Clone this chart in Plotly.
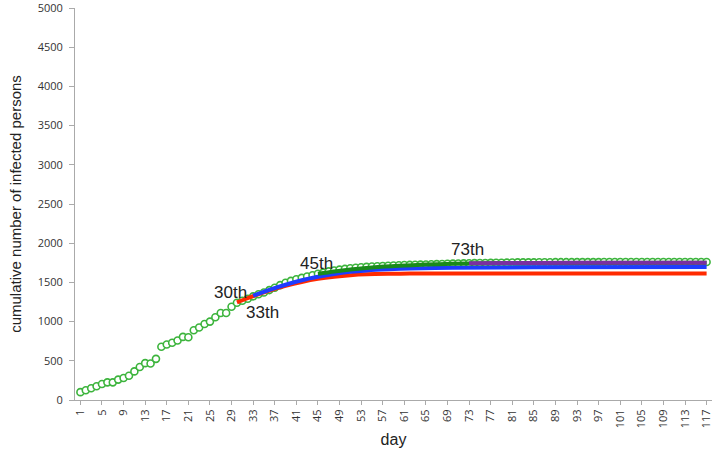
import plotly.graph_objects as go

# Observed cumulative infections, day 1 .. 117
days = list(range(1, 118))
observed = [
    100, 125, 150, 175, 205, 225, 225, 260, 280, 310,
    365, 420, 470, 465, 525, 680, 708, 730, 758, 805,
    800, 890, 925, 970, 1000, 1055, 1110, 1110, 1190, 1240,
    1265, 1292, 1322, 1348, 1372, 1402, 1432, 1465, 1495, 1520,
    1540, 1558, 1576, 1592, 1610, 1625, 1640, 1652, 1663, 1672,
    1680, 1687, 1693, 1698, 1702, 1706, 1709, 1712, 1715, 1718,
    1721, 1723, 1725, 1727, 1729, 1731, 1733, 1735, 1737, 1739,
    1741, 1743, 1745, 1746, 1747, 1748, 1749, 1750, 1751, 1752,
    1753, 1755, 1755, 1756, 1756, 1757, 1757, 1757, 1758, 1758,
    1758, 1758, 1759, 1759, 1759, 1759, 1759, 1760, 1760, 1760,
    1760, 1760, 1760, 1760, 1760, 1760, 1760, 1760, 1760, 1760,
    1760, 1760, 1760, 1760, 1760, 1760, 1760,
]

# Fitted curves starting from different days
fit30_days = [30, 33, 36, 39, 42, 45, 48, 51, 54, 58, 62, 70, 85, 117]
fit30_vals = [1245, 1325, 1395, 1455, 1505, 1545, 1573, 1592, 1603, 1609, 1612, 1614, 1614, 1614]

fit33_days = [33, 36, 39, 42, 45, 48, 51, 54, 58, 62, 70, 85, 117]
fit33_vals = [1330, 1405, 1470, 1528, 1572, 1608, 1635, 1653, 1668, 1677, 1686, 1692, 1696]

fit45_days = [45, 48, 51, 55, 60, 65, 70, 73, 85, 117]
fit45_vals = [1610, 1640, 1665, 1690, 1712, 1727, 1737, 1741, 1748, 1752]

fit73_days = [73, 85, 100, 117]
fit73_vals = [1743, 1748, 1750, 1751]

x_ticks = list(range(1, 118, 4))
y_ticks = list(range(0, 5001, 500))

labels = [
    ("30th", 28.8, 1376),
    ("33th", 34.7, 1110),
    ("45th", 44.7, 1740),
    ("73th", 72.7, 1925),
]

fig = go.Figure()

fig.add_trace(go.Scatter(
    x=days, y=observed, mode="markers",
    marker=dict(symbol="circle", size=7, color="white",
                line=dict(color="#3cb43c", width=1.6)),
    showlegend=False,
))

for xs, ys, col in [
    (fit30_days, fit30_vals, "#ff2a00"),
    (fit33_days, fit33_vals, "#1f3cff"),
    (fit45_days, fit45_vals, "#1a8a1a"),
    (fit73_days, fit73_vals, "#7a2fa0"),
]:
    fig.add_trace(go.Scatter(
        x=xs, y=ys, mode="lines",
        line=dict(color=col, width=4, shape="spline", smoothing=0.8),
        showlegend=False,
    ))

for text, x, y in labels:
    fig.add_annotation(x=x, y=y, text=text, showarrow=False,
                       font=dict(family="Liberation Sans", size=17, color="#222"))

fig.update_layout(
    width=712, height=451,
    margin=dict(l=75, r=0, t=8, b=51),
    paper_bgcolor="white", plot_bgcolor="white",
    font=dict(family="Open Sans", color="#333"),
)

fig.update_xaxes(
    range=[0, 118], tickmode="array", tickvals=x_ticks,
    ticktext=[str(t) for t in x_ticks], tickangle=-90,
    ticks="outside", ticklen=4, tickcolor="#aaa",
    ticklabeloverflow="allow",
    showline=True, linecolor="#aaa", linewidth=1,
    showgrid=False, zeroline=False,
    tickfont=dict(size=11, color="#333"),
    title=dict(text="day", font=dict(family="Liberation Sans", size=16, color="#222"), standoff=6),
)
fig.update_yaxes(
    range=[0, 5000], tickmode="array", tickvals=y_ticks,
    ticktext=[str(t) for t in y_ticks],
    ticks="outside", ticklen=5, tickcolor="#aaa",
    ticklabeloverflow="allow", ticklabelstandoff=4,
    showline=True, linecolor="#aaa", linewidth=1,
    showgrid=False, zeroline=False,
    tickfont=dict(size=11, color="#333"),
    title=dict(text="cumulative number of infected persons",
               font=dict(family="Liberation Sans", size=15, color="#222"), standoff=12),
)

fig.write_html("out.html")
